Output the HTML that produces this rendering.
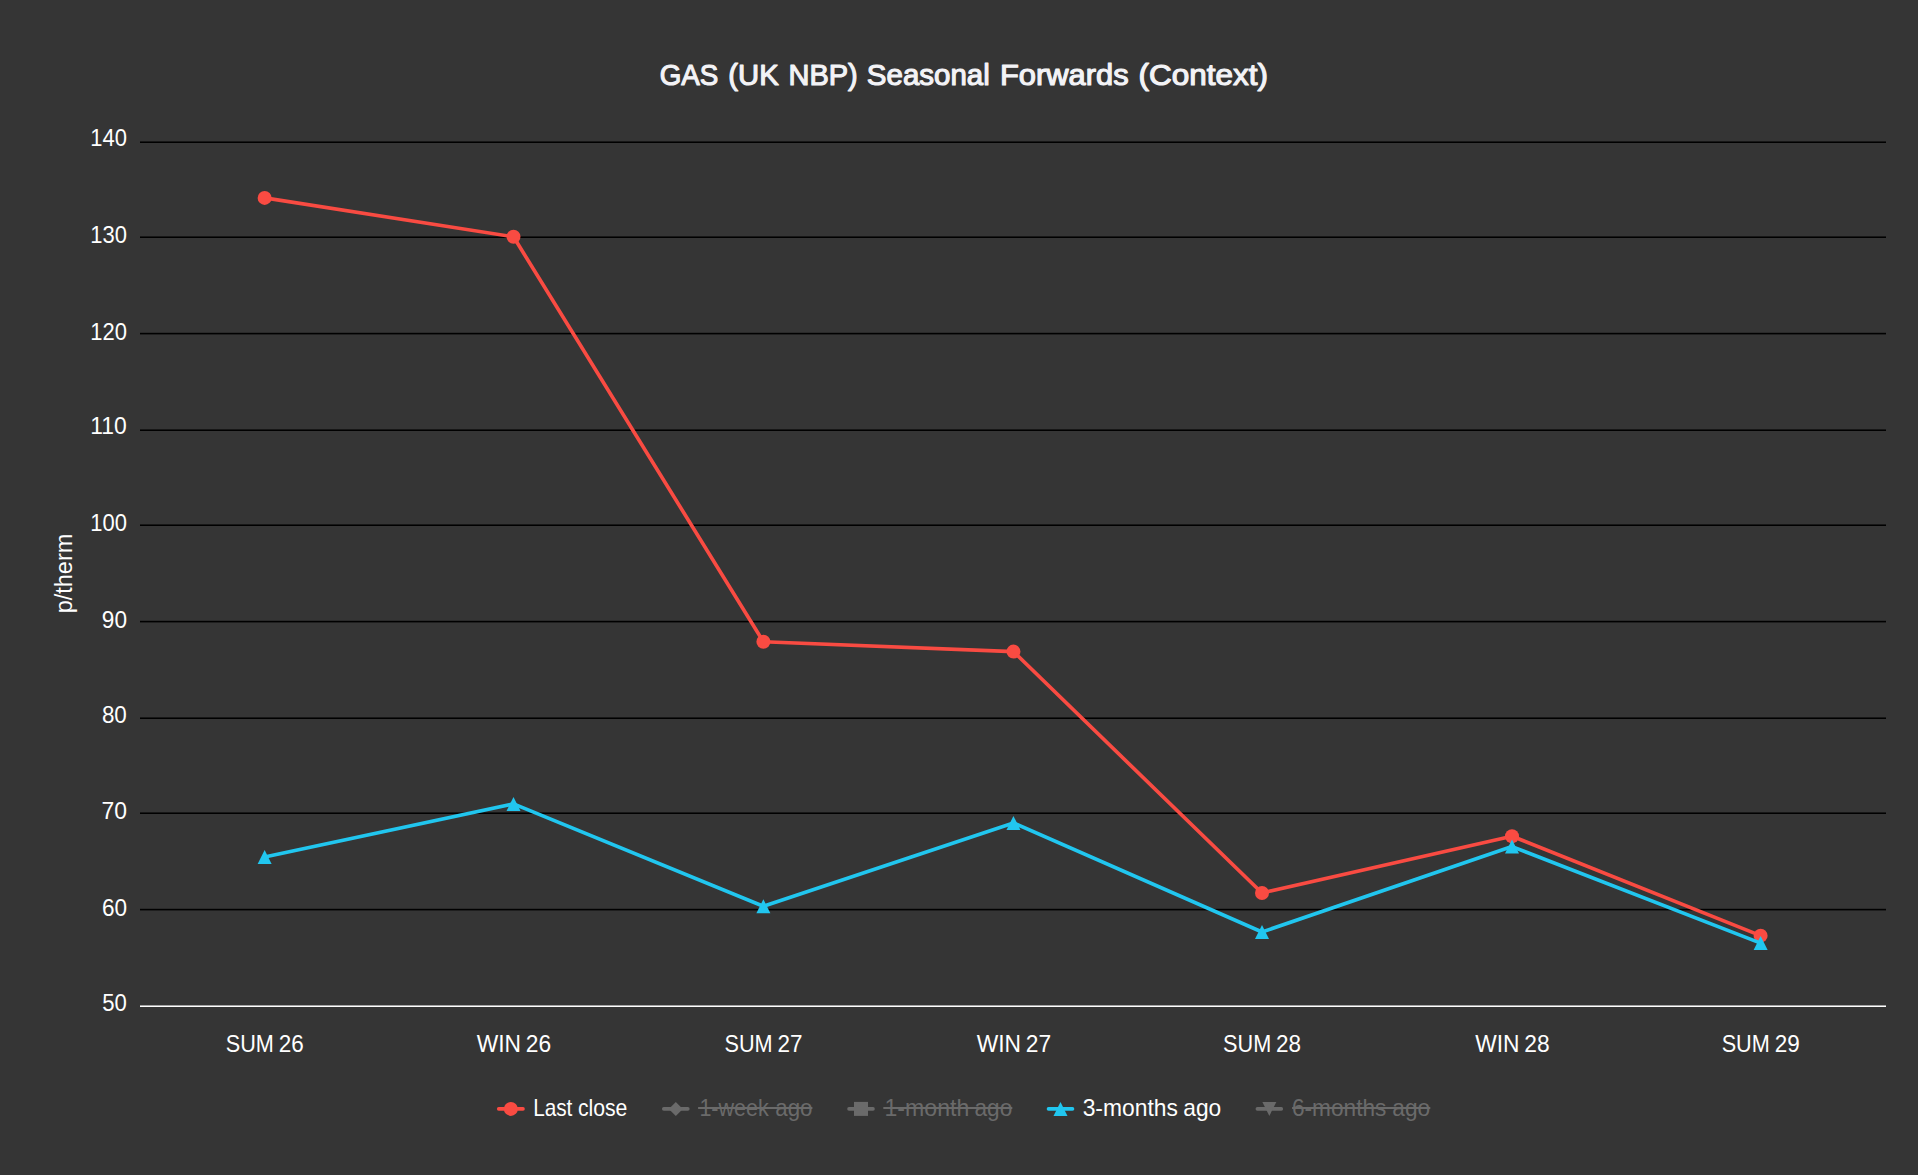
<!DOCTYPE html>
<html lang="en"><head><meta charset="utf-8"><title>GAS (UK NBP) Seasonal Forwards (Context)</title>
<style>html,body{margin:0;padding:0;background:#353535;overflow:hidden}svg{display:block}text{font-family:"Liberation Sans", sans-serif}</style>
</head><body>
<svg width="1918" height="1175" viewBox="0 0 1918 1175">
<rect x="0" y="0" width="1918" height="1175" fill="#353535"/>
<text y="85.45" font-size="29.6" fill="#f3f3f6" stroke="#f3f3f6" stroke-width="1.15" stroke-linejoin="round" lengthAdjust="spacingAndGlyphs">
<tspan x="659.70" textLength="58.62" lengthAdjust="spacingAndGlyphs">GAS</tspan> <tspan x="728.32" textLength="50.35" lengthAdjust="spacingAndGlyphs">(UK</tspan> <tspan x="788.47" textLength="69.27" lengthAdjust="spacingAndGlyphs">NBP)</tspan> <tspan x="866.82" textLength="122.97" lengthAdjust="spacingAndGlyphs">Seasonal</tspan> <tspan x="999.98" textLength="128.61" lengthAdjust="spacingAndGlyphs">Forwards</tspan> <tspan x="1138.51" textLength="129.56" lengthAdjust="spacingAndGlyphs">(Context)</tspan>
</text>
<rect x="140.0" y="141.45" width="1746.0" height="1.55" fill="#000000"/>
<rect x="140.0" y="236.45" width="1746.0" height="1.55" fill="#000000"/>
<rect x="140.0" y="332.80" width="1746.0" height="1.60" fill="#000000"/>
<rect x="140.0" y="429.45" width="1746.0" height="1.55" fill="#000000"/>
<rect x="140.0" y="524.45" width="1746.0" height="1.55" fill="#000000"/>
<rect x="140.0" y="620.80" width="1746.0" height="1.60" fill="#000000"/>
<rect x="140.0" y="717.45" width="1746.0" height="1.55" fill="#000000"/>
<rect x="140.0" y="812.45" width="1746.0" height="1.55" fill="#000000"/>
<rect x="140.0" y="908.80" width="1746.0" height="1.60" fill="#000000"/>
<rect x="140.0" y="1005.45" width="1746.0" height="1.55" fill="#ffffff"/>
<text y="146.05" font-size="23.6" fill="#ffffff"><tspan x="90.26" textLength="36.65" lengthAdjust="spacingAndGlyphs">140</tspan></text>
<text y="243.05" font-size="23.6" fill="#ffffff"><tspan x="90.26" textLength="36.65" lengthAdjust="spacingAndGlyphs">130</tspan></text>
<text y="340.00" font-size="23.6" fill="#ffffff"><tspan x="90.26" textLength="36.65" lengthAdjust="spacingAndGlyphs">120</tspan></text>
<text y="434.10" font-size="23.6" fill="#ffffff"><tspan x="90.26" textLength="36.52" lengthAdjust="spacingAndGlyphs">110</tspan></text>
<text y="531.05" font-size="23.6" fill="#ffffff"><tspan x="90.26" textLength="36.65" lengthAdjust="spacingAndGlyphs">100</tspan></text>
<text y="628.00" font-size="23.6" fill="#ffffff"><tspan x="101.87" textLength="25.14" lengthAdjust="spacingAndGlyphs">90</tspan></text>
<text y="723.05" font-size="23.6" fill="#ffffff"><tspan x="101.90" textLength="24.94" lengthAdjust="spacingAndGlyphs">80</tspan></text>
<text y="819.05" font-size="23.6" fill="#ffffff"><tspan x="101.61" textLength="25.45" lengthAdjust="spacingAndGlyphs">70</tspan></text>
<text y="916.00" font-size="23.6" fill="#ffffff"><tspan x="101.90" textLength="25.09" lengthAdjust="spacingAndGlyphs">60</tspan></text>
<text y="1011.15" font-size="23.6" fill="#ffffff"><tspan x="102.24" textLength="24.62" lengthAdjust="spacingAndGlyphs">50</tspan></text>
<text transform="translate(71.5 573.5) rotate(-90)" text-anchor="middle" font-size="23" fill="#ffffff" textLength="79.6" lengthAdjust="spacingAndGlyphs">p/therm</text>
<text y="1052.20" font-size="23.6" fill="#ffffff"><tspan x="225.71" textLength="48.16" lengthAdjust="spacingAndGlyphs">SUM</tspan> <tspan x="278.71" textLength="25.01" lengthAdjust="spacingAndGlyphs">26</tspan></text>
<text y="1052.20" font-size="23.6" fill="#ffffff"><tspan x="476.69" textLength="44.31" lengthAdjust="spacingAndGlyphs">WIN</tspan> <tspan x="525.78" textLength="25.35" lengthAdjust="spacingAndGlyphs">26</tspan></text>
<text y="1052.20" font-size="23.6" fill="#ffffff"><tspan x="724.46" textLength="48.16" lengthAdjust="spacingAndGlyphs">SUM</tspan> <tspan x="777.46" textLength="25.01" lengthAdjust="spacingAndGlyphs">27</tspan></text>
<text y="1052.20" font-size="23.6" fill="#ffffff"><tspan x="976.64" textLength="44.31" lengthAdjust="spacingAndGlyphs">WIN</tspan> <tspan x="1025.73" textLength="25.35" lengthAdjust="spacingAndGlyphs">27</tspan></text>
<text y="1052.20" font-size="23.6" fill="#ffffff"><tspan x="1223.06" textLength="48.16" lengthAdjust="spacingAndGlyphs">SUM</tspan> <tspan x="1276.06" textLength="25.01" lengthAdjust="spacingAndGlyphs">28</tspan></text>
<text y="1052.20" font-size="23.6" fill="#ffffff"><tspan x="1475.19" textLength="44.31" lengthAdjust="spacingAndGlyphs">WIN</tspan> <tspan x="1524.28" textLength="25.35" lengthAdjust="spacingAndGlyphs">28</tspan></text>
<text y="1052.20" font-size="23.6" fill="#ffffff"><tspan x="1721.66" textLength="48.16" lengthAdjust="spacingAndGlyphs">SUM</tspan> <tspan x="1774.66" textLength="25.01" lengthAdjust="spacingAndGlyphs">29</tspan></text>
<polyline points="264.65,197.90 513.50,236.80 763.40,641.75 1013.45,651.60 1262.00,893.00 1512.00,836.20 1760.60,935.65" fill="none" stroke="#f94b42" stroke-width="3.65" stroke-linejoin="round" stroke-linecap="round"/>
<circle cx="264.65" cy="197.90" r="7.00" fill="#f94b42"/>
<circle cx="513.50" cy="236.80" r="7.00" fill="#f94b42"/>
<circle cx="763.40" cy="641.75" r="7.00" fill="#f94b42"/>
<circle cx="1013.45" cy="651.60" r="7.00" fill="#f94b42"/>
<circle cx="1262.00" cy="893.00" r="7.00" fill="#f94b42"/>
<circle cx="1512.00" cy="836.20" r="7.00" fill="#f94b42"/>
<circle cx="1760.60" cy="935.65" r="7.00" fill="#f94b42"/>
<polyline points="264.65,857.00 513.50,803.90 763.40,906.20 1013.45,822.90 1262.00,932.00 1512.00,846.60 1760.60,943.10" fill="none" stroke="#21c6ef" stroke-width="3.65" stroke-linejoin="round" stroke-linecap="round"/>
<polygon points="264.65,850.00 271.65,864.00 257.65,864.00" fill="#21c6ef"/>
<polygon points="513.50,796.90 520.50,810.90 506.50,810.90" fill="#21c6ef"/>
<polygon points="763.40,899.20 770.40,913.20 756.40,913.20" fill="#21c6ef"/>
<polygon points="1013.45,815.90 1020.45,829.90 1006.45,829.90" fill="#21c6ef"/>
<polygon points="1262.00,925.00 1269.00,939.00 1255.00,939.00" fill="#21c6ef"/>
<polygon points="1512.00,839.60 1519.00,853.60 1505.00,853.60" fill="#21c6ef"/>
<polygon points="1760.60,936.10 1767.60,950.10 1753.60,950.10" fill="#21c6ef"/>
<line x1="498.70" y1="1108.90" x2="523.00" y2="1108.90" stroke="#f94b42" stroke-width="3.65" stroke-linecap="round"/>
<circle cx="510.85" cy="1108.90" r="7.00" fill="#f94b42"/>
<text y="1115.60" font-size="23.4" fill="#ffffff"><tspan x="533.15" textLength="39.25" lengthAdjust="spacingAndGlyphs">Last</tspan> <tspan x="577.89" textLength="49.51" lengthAdjust="spacingAndGlyphs">close</tspan></text>
<line x1="663.80" y1="1108.90" x2="687.80" y2="1108.90" stroke="#6a6a6a" stroke-width="3.65" stroke-linecap="round"/>
<polygon points="675.80,1101.90 682.80,1108.90 675.80,1115.90 668.80,1108.90" fill="#6a6a6a"/>
<text y="1115.60" font-size="23.4" fill="#6a6a6a"><tspan x="699.39" textLength="69.40" lengthAdjust="spacingAndGlyphs">1-week</tspan> <tspan x="775.22" textLength="37.25" lengthAdjust="spacingAndGlyphs">ago</tspan></text>
<rect x="698.1" y="1107.0" width="114.3" height="2.0" fill="#6a6a6a"/>
<line x1="849.00" y1="1108.90" x2="873.00" y2="1108.90" stroke="#6a6a6a" stroke-width="3.65" stroke-linecap="round"/>
<rect x="854.00" y="1101.90" width="14.00" height="14.00" fill="#6a6a6a"/>
<text y="1115.60" font-size="23.4" fill="#6a6a6a"><tspan x="884.52" textLength="84.72" lengthAdjust="spacingAndGlyphs">1-month</tspan> <tspan x="974.53" textLength="37.79" lengthAdjust="spacingAndGlyphs">ago</tspan></text>
<rect x="883.3" y="1107.0" width="129.0" height="2.0" fill="#6a6a6a"/>
<line x1="1048.50" y1="1108.90" x2="1072.50" y2="1108.90" stroke="#21c6ef" stroke-width="3.65" stroke-linecap="round"/>
<polygon points="1060.50,1101.90 1067.50,1115.90 1053.50,1115.90" fill="#21c6ef"/>
<text y="1115.60" font-size="23.4" fill="#ffffff"><tspan x="1082.66" textLength="95.23" lengthAdjust="spacingAndGlyphs">3-months</tspan> <tspan x="1183.35" textLength="37.91" lengthAdjust="spacingAndGlyphs">ago</tspan></text>
<line x1="1257.40" y1="1108.90" x2="1281.30" y2="1108.90" stroke="#6a6a6a" stroke-width="3.65" stroke-linecap="round"/>
<polygon points="1262.35,1101.90 1276.35,1101.90 1269.35,1115.90" fill="#6a6a6a"/>
<text y="1115.60" font-size="23.4" fill="#6a6a6a"><tspan x="1291.97" textLength="94.42" lengthAdjust="spacingAndGlyphs">6-months</tspan> <tspan x="1392.29" textLength="37.90" lengthAdjust="spacingAndGlyphs">ago</tspan></text>
<rect x="1292.1" y="1107.0" width="138.2" height="2.0" fill="#6a6a6a"/>
</svg>
</body></html>
